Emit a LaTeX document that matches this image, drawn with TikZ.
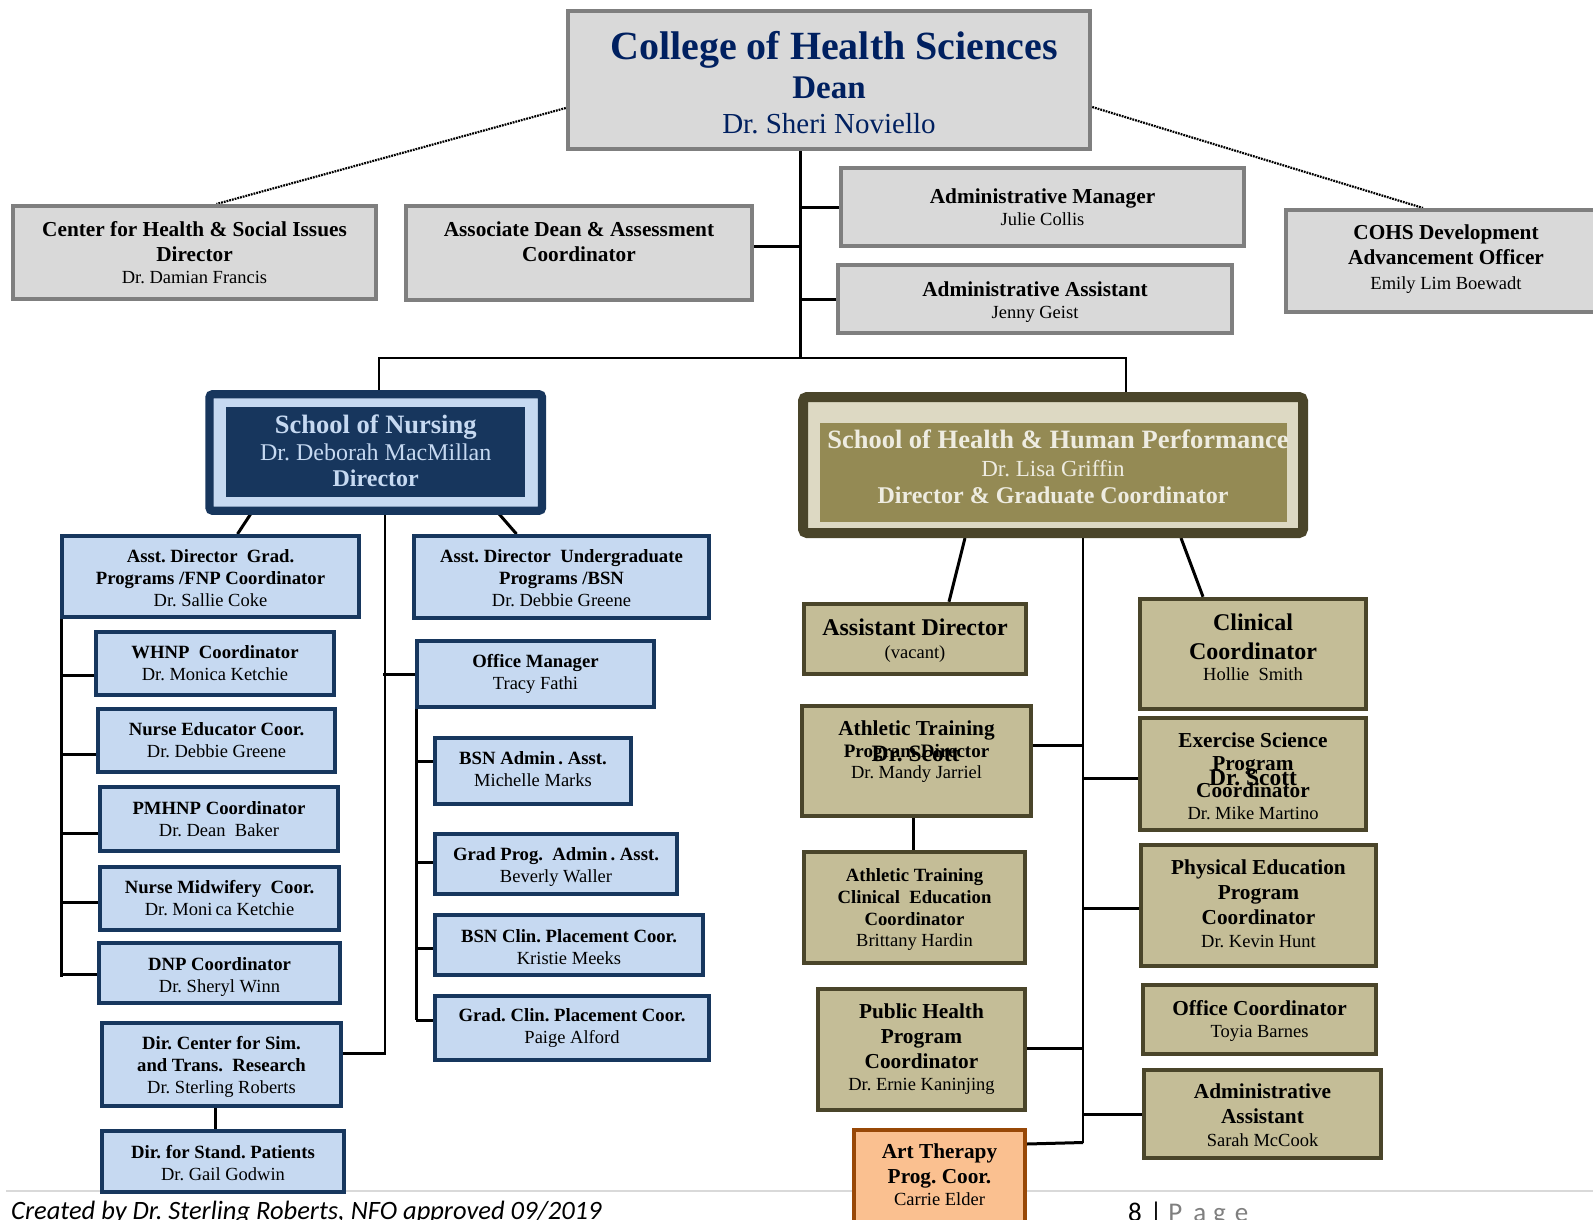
\documentclass[tikz,border=0pt]{standalone}
\usepackage{fontspec}
\setmainfont{Liberation Serif}
\newfontfamily\footfont{Carlito}
\usetikzlibrary{positioning,fit,backgrounds}
\frenchspacing
\definecolor{deanBlue}{HTML}{002060}
\definecolor{grayFill}{HTML}{D9D9D9}
\definecolor{grayLine}{HTML}{7F7F7F}
\definecolor{nurseFill}{HTML}{C6D9F1}
\definecolor{nurseLine}{HTML}{17375E}
\definecolor{nurseDark}{HTML}{17365D}
\definecolor{hhpFill}{HTML}{C4BD97}
\definecolor{hhpLine}{HTML}{4A452A}
\definecolor{hhpBand}{HTML}{DDD9C3}
\definecolor{hhpInner}{HTML}{948A54}
\definecolor{hhpText}{HTML}{EEECE1}
\definecolor{artFill}{HTML}{FAC090}
\definecolor{artLine}{HTML}{984807}
\definecolor{footLine}{HTML}{D9D9D9}
\tikzstyle{link}=[line width=3pt]
\tikzstyle{thinlink}=[line width=2.2pt]
\tikzstyle{dotlink}=[line width=2.2pt,dash pattern=on 1.8pt off 1pt]
\tikzstyle{deanbox}=[draw=grayLine,fill=grayFill,line width=4.5pt,inner sep=0pt]
\tikzstyle{deanbox txt}=[align=center,text=deanBlue,font=\fontsize{33}{39}\selectfont\bfseries]
\tikzstyle{graybox}=[draw=grayLine,fill=grayFill,line width=4pt,inner sep=0pt]
\tikzstyle{graybox txt}=[align=center,font=\fontsize{21.3}{25}\selectfont\bfseries]
\tikzstyle{nursebox}=[draw=nurseLine,fill=nurseFill,line width=4pt,inner sep=0pt]
\tikzstyle{nursebox txt}=[align=center,font=\fontsize{18.7}{22}\selectfont\bfseries]
\tikzstyle{hhpbox}=[draw=hhpLine,fill=hhpFill,line width=4.5pt,inner sep=0pt]
\tikzstyle{hhpbox txt}=[align=center,font=\fontsize{21.3}{25}\selectfont\bfseries]
\tikzstyle{hhpsmall}=[hhpbox]
\tikzstyle{hhpsmall txt}=[align=center,font=\fontsize{18.7}{21.7}\selectfont\bfseries]
\tikzstyle{artbox}=[draw=artLine,fill=artFill,line width=4pt,inner sep=0pt]
\tikzstyle{artbox txt}=[hhpbox txt]
\newcommand{\orgBox}[6]{\node[#2,fit={(#3) (#4)}](#1){};
  \node[#2 txt] at ([yshift=#5]#1.center) {#6};}
\newcommand{\nm}[1]{{\fontsize{18.5}{22}\selectfont\mdseries #1}}

\begin{document}
\begin{tikzpicture}[x=1pt,y=-1pt]
  \useasboundingbox (0,0) rectangle (1593,1220);
  % college level
  \orgBox{dean}{deanbox}{568,11}{1090,149}{-2.5pt}{{\fontsize{40}{44}\selectfont\hspace*{10pt}College of Health Sciences}\\ Dean\\[-4.3pt] {\fontsize{29}{33}\selectfont\mdseries Dr. Sheri Noviello}}
  \orgBox{center}{graybox}{13,206}{376,299}{0pt}{Center for Health \& Social Issues\\ Director\\[-3pt] \nm{Dr. Damian Francis}}
  \orgBox{assoc}{graybox}{406,206}{752,300}{11pt}{Associate Dean \& Assessment\\ Coordinator}
  \orgBox{admmgr}{graybox}{841,168}{1244,246}{0pt}{Administrative Manager\\[-3pt] \nm{Julie Collis}}
  \orgBox{admasst}{graybox}{838,265}{1232,333}{-3.3pt}{Administrative Assistant\\[-3pt] \nm{Jenny Geist}}
  \orgBox{cohs}{graybox}{1286,210}{1606,312}{1.4pt}{COHS Development\\ Advancement Officer\\ \nm{Emily Lim Boewadt}}

  % school of nursing
  \node[draw=nurseDark,line width=8.3pt,fill=nurseFill,rounded corners=3pt,inner sep=0pt,
    fit={(209.5,394.3) (542,510.7)}] (sn) {};
  \node[fill=nurseDark,inner sep=0pt,fit={(226,407.3) (525,497.3)}] (sninner) {};
  \node[align=center,text=nurseFill,font=\fontsize{24}{26.6}\selectfont\bfseries] at ([yshift=1.5pt]sn.center)
    {{\fontsize{26.5}{26.6}\selectfont School of Nursing}\\ {\mdseries Dr. Deborah MacMillan}\\ Director};
  \orgBox{asstgrad}{nursebox}{62,536}{359,617}{-2.1pt}{Asst. Director\ \ Grad.\\ Programs /FNP Coordinator\\ \nm{Dr. Sallie Coke}}
  \orgBox{asstug}{nursebox}{414,536}{709,618}{-0.8pt}{Asst. Director\ \ Undergraduate\\ Programs /BSN\\ \nm{Dr. Debbie Greene}}
  \orgBox{whnp}{nursebox}{96,632}{334,695}{0.7pt}{WHNP\ \ Coordinator\\ \nm{Dr. Monica Ketchie}}
  \orgBox{nursed}{nursebox}{98,709}{335,772}{0pt}{Nurse Educator Coor.\\ \nm{Dr. Debbie Greene}}
  \orgBox{pmhnp}{nursebox}{100,787}{338,851}{-0.5pt}{PMHNP Coordinator\\ \nm{Dr. Dean\ \ Baker}}
  \orgBox{midwife}{nursebox}{100,867}{339,930}{0pt}{Nurse Midwifery\ \ Coor.\\ \nm{Dr. Moni\,ca Ketchie}}
  \orgBox{dnp}{nursebox}{99,943}{340,1003}{-3.5pt}{DNP Coordinator\\ \nm{Dr. Sheryl Winn}}
  \orgBox{simctr}{nursebox}{102,1023}{341,1106}{-2.8pt}{Dir. Center for Sim.\\ and Trans.\ \ Research\\ \nm{Dr. Sterling Roberts}}
  \orgBox{stdpat}{nursebox}{102,1131}{344,1192}{-1.3pt}{Dir. for Stand. Patients\\ \nm{Dr. Gail Godwin}}
  \orgBox{offmgr}{nursebox}{417,641}{654,707}{0pt}{Office Manager\\ \nm{Tracy Fathi}}
  \orgBox{bsnadm}{nursebox}{435,738}{631,804}{2.4pt}{BSN Admin\,. Asst.\\ \nm{Michelle Marks}}
  \orgBox{gradadm}{nursebox}{435,834}{677,894}{-3pt}{Grad Prog.\ \ Admin\,. Asst.\\ \nm{Beverly Waller}}
  \orgBox{bsnclin}{nursebox}{435,915}{703,975}{-2pt}{BSN Clin. Placement Coor.\\ \nm{Kristie Meeks}}
  \orgBox{gradclin}{nursebox}{435,996}{709,1060}{-0.2pt}{Grad. Clin. Placement Coor.\\ \nm{Paige Alford}}

  % school of health and human performance
  \node[draw=hhpLine,line width=10pt,fill=hhpBand,rounded corners=4pt,inner sep=0pt,
    fit={(803,397) (1303,533)}] (shhp) {};
  \node[fill=hhpInner,inner sep=0pt,fit={(820,423) (1287,522)}] (shhpinner) {};
  \node[align=center,text=hhpText,font=\fontsize{24}{27.5}\selectfont\bfseries] at ([yshift=-2pt]shhp.center)
    {{\fontsize{26.5}{27.5}\selectfont\hspace*{10pt}School of Health \& Human Performance}\\ {\fontsize{23}{27.5}\selectfont\mdseries Dr. Lisa Griffin}\\ Director \& Graduate Coordinator};
  \orgBox{asstdir}{hhpbox}{804,604}{1026,674}{-1.5pt}{{\fontsize{24}{25}\selectfont Assistant Director}\\[-1.7pt] \nm{(vacant)}}
  \orgBox{clincoord}{hhpbox}{1140,599}{1366,709}{6.5pt}{{\fontsize{24}{25}\selectfont Clinical}\\[3.3pt] {\fontsize{24}{25}\selectfont Coordinator}\\[-3.3pt] \nm{Hollie\ \ Smith}}
  \orgBox{attrain}{hhpbox}{802,706}{1031,816}{9.5pt}{Athletic Training\\[-3pt] {\fontsize{19}{22}\selectfont Program Director}\\[-4pt] \nm{Dr. Mandy Jarriel}}
  \node[anchor=base,font=\fontsize{23.5}{25}\selectfont\bfseries] (scottA) at ([xshift=-1pt,yshift=0pt]attrain.center) {Dr. Scott};
  \orgBox{exsci}{hhpbox}{1140,718}{1366,830}{-2.3pt}{Exercise Science\\[-1.7pt] Program\\[1.7pt] Coordinator\\[-2.4pt] \nm{Dr. Mike Martino}}
  \node[anchor=base,font=\fontsize{23.5}{25}\selectfont\bfseries] (scottB) at ([yshift=-11pt]exsci.center) {Dr. Scott};
  \orgBox{atclin}{hhpsmall}{804,852}{1025,963}{-2.3pt}{Athletic Training\\ Clinical\ \ Education\\ Coordinator\\ \nm{Brittany Hardin}}
  \orgBox{physed}{hhpbox}{1141,845}{1376,966}{2pt}{Physical Education\\ Program\\ Coordinator\\[-1.6pt] \nm{Dr. Kevin Hunt}}
  \orgBox{pubhlth}{hhpbox}{818,989}{1025,1110}{0.3pt}{Public Health\\ Program\\ Coordinator\\[-3.4pt] \nm{Dr. Ernie Kaninjing}}
  \orgBox{offcoord}{hhpbox}{1143,985}{1376,1054}{-1.4pt}{Office Coordinator\\[-2.7pt] \nm{Toyia Barnes}}
  \orgBox{sadmasst}{hhpbox}{1144,1070}{1381,1158}{-1.2pt}{Administrative\\ Assistant\\[-1.6pt] \nm{Sarah McCook}}
  \orgBox{arttx}{artbox}{854,1130}{1025,1240}{10pt}{Art Therapy\\ Prog. Coor.\\[-3.3pt] \nm{Carrie Elder}}

  % footer
  \node[anchor=base west,inner sep=0pt,font=\footfont\itshape\fontsize{26.5}{30}\selectfont] (credit) at (11,1219)
    {Created by Dr. Sterling Roberts, NFO approved 09/2019};
  \node[anchor=base west,inner sep=0pt,font=\footfont\fontsize{27}{30}\selectfont] (pagenum) at (1128,1221)
    {8\hspace{8pt}|\hspace{6pt}\textcolor{grayLine}{P\hspace{11pt}a\hspace{7pt}g\hspace{9pt}e}};

  \begin{scope}[on background layer]
    \draw[footLine,line width=2pt] (6,1191) -- (1593,1191);
    % dean level
    \coordinate (trunk) at (800,358);
    \draw[link] (trunk |- dean.south) -- (trunk);
    \draw[link] ([yshift=6.3pt]assoc.east) -- ([yshift=6.3pt]assoc.east -| trunk);
    \draw[link] (admmgr.west) -- (admmgr.west -| trunk);
    \draw[link] (admasst.west) -- (admasst.west -| trunk);
    \draw[dotlink] ([yshift=-28pt]dean.west) -- ([xshift=22pt]center.north);
    \draw[dotlink] ([yshift=-27pt]dean.east) -- ([xshift=-23pt]cohs.north);
    \draw[thinlink] ([xshift=3pt]sn.north) |- (trunk) -| ([xshift=73pt]shhp.north);
    % nursing
    \draw[link] ([xshift=-123pt,yshift=4pt]sn.south) -- ([xshift=27pt]asstgrad.north);
    \draw[link] ([xshift=120pt,yshift=4.7pt]sn.south) -- ([xshift=-45pt]asstug.north);
    \draw[thinlink] ([xshift=9pt]sn.south) |- ([yshift=11pt]simctr.east);
    \draw[link] (offmgr.west) -- ++(-32,0);
    \coordinate (gspine) at (61,977);
    \draw[link] (gspine |- asstgrad.south) -- (gspine);
    \foreach \b/\s in {whnp/-11.5,nursed/-13.5,pmhnp/-14,midwife/-3.5,dnp/-1}
      \draw[link] ([yshift=\s pt]\b.west) -- ([yshift=\s pt]\b.west -| gspine);
    \coordinate (ospine) at (416,1020);
    \draw[link] (ospine |- offmgr.south) -- (ospine);
    \foreach \b/\s in {bsnadm/10,gradadm/2,bsnclin/-3,gradclin/8}
      \draw[link] ([yshift=\s pt]\b.west) -- ([yshift=\s pt]\b.west -| ospine);
    \draw[link] ([xshift=-6.5pt]simctr.south) -- ([xshift=-6.5pt]simctr.south |- stdpat.north);
    % health and human performance
    \draw[link] ([xshift=-88pt]shhp.south) -- ([xshift=34pt]asstdir.north);
    \draw[link] ([xshift=128pt]shhp.south) -- ([xshift=-50pt]clincoord.north);
    \coordinate (hspine) at (1083,1142.5);
    \draw[thinlink] (hspine |- shhp.south) -- (hspine);
    \draw[link] ([yshift=15.3pt]attrain.east) -- ([yshift=15.3pt]attrain.east -| hspine);
    \draw[link] ([yshift=1.2pt]pubhlth.east) -- ([yshift=1.2pt]pubhlth.east -| hspine);
    \draw[link] ([yshift=41pt]arttx.east) -- (hspine);
    \foreach \b/\s in {exsci/-4.3,physed/-2.8,sadmasst/0}
      \draw[link] ([yshift=\s pt]\b.west) -- ([yshift=\s pt]\b.west -| hspine);
    \draw[link] ([xshift=-2.7pt]attrain.south) -- ([xshift=-2.7pt]attrain.south |- atclin.north);
  \end{scope}
\end{tikzpicture}
\end{document}
